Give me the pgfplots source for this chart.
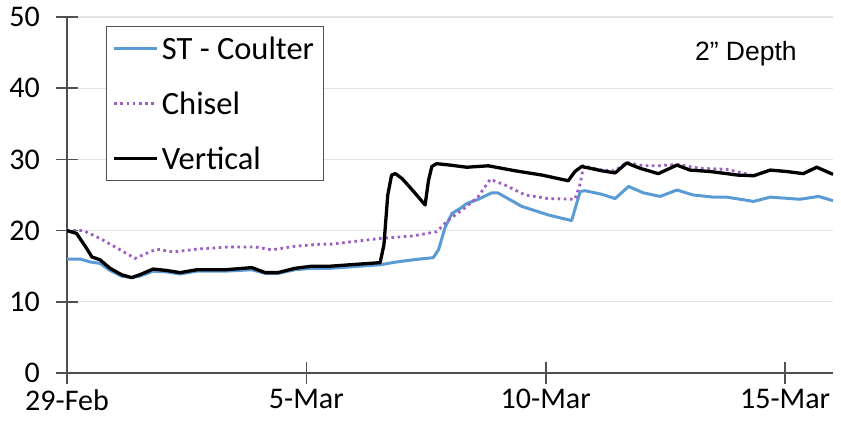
\documentclass[border=0pt]{standalone}
\usepackage{pgfplots}
\pgfplotsset{compat=1.18}
\usepackage{fontspec}
\setmainfont{Carlito}
\newfontfamily\arialfont{Liberation Sans}
\definecolor{stblue}{RGB}{91,155,213}
\definecolor{chpurple}{RGB}{155,95,195}
\definecolor{axgray}{RGB}{80,80,80}
\begin{document}
\begin{tikzpicture}
\useasboundingbox (0,0) rectangle (841pt,430pt);
\begin{axis}[
  at={(67pt,57pt)}, anchor=south west,
  scale only axis, width=766pt, height=356pt,
  xmin=0, xmax=16, ymin=0, ymax=50,
  axis x line=bottom, axis y line=left,
  axis line style={-, draw=axgray, line width=1.5pt},
  xtick={0,5,10,15}, xticklabels={29-Feb,5-Mar,10-Mar,15-Mar},
  ytick={0,10,20,30,40,50},
  tick align=center, major tick length=22pt,
  tick style={draw=axgray, line width=1.5pt},
  ymajorgrids, grid style={draw=gray!22, line width=1.3pt},
  ticklabel style={font=\fontsize{30}{36}\selectfont, inner sep=1pt},
  yticklabel style={xshift=-15pt},
  xticklabel style={yshift=-4pt},
  /pgf/number format/assume math mode=true,
  legend style={at={(0.0509,0.9747)}, anchor=north west, draw=axgray, line width=1.2pt,
    font=\fontsize{32.5}{39}\selectfont, inner xsep=6pt, inner ysep=8pt, row sep=27pt,
    nodes={inner xsep=3pt}},
  legend image code/.code={\draw[#1] (0pt,0pt) -- (43pt,0pt);},
  legend cell align=left,
]
\addplot[stblue, line width=3pt, line join=round] coordinates {
(0,16.0) (0.28,16.0) (0.48,15.6) (0.69,15.4) (0.9,14.4) (1.14,13.6) (1.35,13.4) (1.52,13.6)
(1.8,14.3) (2.08,14.2) (2.36,13.9) (2.71,14.3) (3.3,14.3) (3.86,14.5) (4.14,14.0) (4.41,14.0)
(4.76,14.5) (5.11,14.7) (5.49,14.7) (5.91,14.9) (6.54,15.2) (6.89,15.6) (7.23,15.9) (7.65,16.2)
(7.76,17.3) (7.9,20.5) (8.04,22.4) (8.21,23.1) (8.35,23.8) (8.59,24.4) (8.87,25.3) (9.0,25.3)
(9.5,23.4) (10.05,22.2) (10.54,21.4) (10.72,25.5) (10.82,25.6) (11.17,25.1) (11.45,24.5)
(11.73,26.2) (12.04,25.3) (12.39,24.8) (12.74,25.7) (13.08,25.0) (13.5,24.7) (13.78,24.7)
(14.34,24.1) (14.69,24.7) (15.31,24.4) (15.7,24.8) (16.0,24.2)
};
\addlegendentry{ST - Coulter}
\addplot[chpurple, line width=2.8pt, dash pattern=on 2.6pt off 3.6pt] coordinates {
(0,20.0) (0.34,20.0) (0.69,18.9) (1.11,17.3) (1.42,16.1) (1.66,16.8) (1.87,17.4) (2.22,17.0)
(2.71,17.4) (3.37,17.7) (3.93,17.7) (4.28,17.3) (4.76,17.8) (5.32,18.1) (5.53,18.1) (6.54,18.9)
(7.23,19.25) (7.72,19.85) (7.93,21.25) (8.07,22.0) (8.35,23.4) (8.59,24.8) (8.84,27.2) (9.15,26.4)
(9.57,25.0) (10.05,24.5) (10.61,24.4) (10.72,26.6) (10.79,29.1) (11.17,28.5) (11.45,28.4)
(11.69,29.6) (12.04,29.1) (12.35,29.1) (12.74,29.3) (13.22,28.75) (13.78,28.6) (14.2,27.95)
(14.34,27.7) (14.69,28.5) (15.03,28.3) (15.38,28.0) (15.66,28.9) (16.0,27.9)
};
\addlegendentry{Chisel}
\addplot[black, line width=3.3pt, line join=round] coordinates {
(0,20.0) (0.2,19.6) (0.41,17.5) (0.52,16.3) (0.69,15.9) (0.9,14.7) (1.14,13.8) (1.35,13.4)
(1.52,13.8) (1.8,14.6) (2.08,14.4) (2.36,14.1) (2.71,14.5) (3.3,14.5) (3.86,14.8) (4.14,14.1)
(4.41,14.1) (4.76,14.7) (5.11,15.0) (5.5,15.0) (5.91,15.2) (6.54,15.5) (6.62,18.0) (6.70,25.0)
(6.78,27.8) (6.86,28.0) (7.0,27.3) (7.2,25.8) (7.48,23.6) (7.55,27.0) (7.62,29.0) (7.72,29.4)
(8.0,29.2) (8.35,28.9) (8.8,29.1) (9.36,28.4) (9.92,27.8) (10.47,27.0) (10.61,28.3) (10.75,29.0)
(11.17,28.4) (11.45,28.1) (11.69,29.5) (11.97,28.75) (12.35,28.0) (12.74,29.2) (13.01,28.5)
(13.43,28.3) (13.78,28.0) (14.0,27.8) (14.34,27.7) (14.69,28.5) (15.03,28.3) (15.38,28.0)
(15.66,28.9) (16.0,27.9)
};
\addlegendentry{Vertical}
\node[font=\arialfont\fontsize{26.5}{30}\selectfont] at (axis cs:14.18,44.9) {2” Depth};
\end{axis}
\end{tikzpicture}
\end{document}
